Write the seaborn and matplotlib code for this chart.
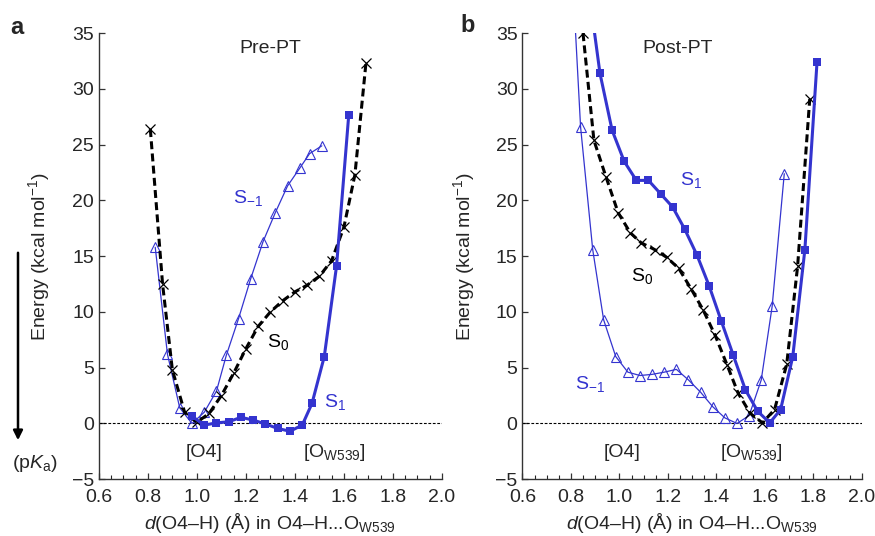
import matplotlib

matplotlib.use("Agg")

import matplotlib.pyplot as plt
import numpy as np
import pandas as pd
import seaborn as sns
from matplotlib.ticker import MultipleLocator

BLUE = "#3434CF"

# panel a: Pre-PT
pre_s1_d = [0.98, 1.03, 1.08, 1.13, 1.18, 1.23, 1.28, 1.33, 1.38, 1.43, 1.47, 1.52, 1.57, 1.62]
pre_s1_e = [0.65, -0.15, 0.05, 0.15, 0.55, 0.3, -0.05, -0.45, -0.7, -0.15, 1.8, 6.0, 14.1, 27.7]

pre_sm1_d = [0.83, 0.88, 0.93, 0.98, 1.03, 1.08, 1.12, 1.17, 1.22, 1.27, 1.32, 1.37, 1.42, 1.46, 1.51]
pre_sm1_e = [15.8, 6.2, 1.4, 0.0, 1.0, 2.9, 6.1, 9.4, 13.0, 16.3, 18.9, 21.3, 22.9, 24.2, 24.9]

pre_s0_d = [0.81, 0.86, 0.90, 0.95, 1.00, 1.05, 1.10, 1.15, 1.20, 1.25, 1.30, 1.35,
            1.40, 1.45, 1.50, 1.55, 1.60, 1.645, 1.69]
pre_s0_e = [26.4, 12.5, 4.8, 1.0, 0.1, 0.9, 2.5, 4.5, 6.7, 8.7, 10.0, 11.0,
            11.8, 12.4, 13.2, 14.6, 17.6, 22.3, 32.3]

# panel b: Post-PT
post_s1_d = [0.87, 0.92, 0.97, 1.02, 1.07, 1.12, 1.17, 1.22, 1.27, 1.32, 1.37, 1.42,
             1.47, 1.52, 1.57, 1.62, 1.665, 1.715, 1.765, 1.815]
post_s1_e = [39.5, 31.4, 26.3, 23.5, 21.8, 21.8, 20.6, 19.4, 17.4, 15.1, 12.35, 9.2,
             6.1, 3.0, 1.1, 0.05, 1.25, 6.0, 15.6, 32.4]

post_sm1_d = [0.79, 0.84, 0.89, 0.935, 0.985, 1.035, 1.085, 1.135, 1.185, 1.235, 1.285,
              1.335, 1.385, 1.435, 1.485, 1.535, 1.585, 1.63, 1.68]
post_sm1_e = [47.0, 26.6, 15.6, 9.3, 6.0, 4.6, 4.3, 4.4, 4.6, 4.85, 3.9,
              2.8, 1.5, 0.5, 0.0, 0.7, 3.9, 10.5, 22.4]

post_s0_d = [0.85, 0.895, 0.945, 0.995, 1.045, 1.09, 1.145, 1.195, 1.245, 1.295, 1.345,
             1.395, 1.445, 1.49, 1.54, 1.59, 1.64, 1.69, 1.735, 1.785]
post_s0_e = [35.0, 25.4, 22.1, 18.9, 17.1, 16.2, 15.6, 14.9, 13.9, 12.1, 10.2,
             7.9, 5.2, 2.7, 0.9, 0.05, 1.25, 5.3, 14.1, 29.1]

x_ticks = [0.6, 0.8, 1.0, 1.2, 1.4, 1.6, 1.8, 2.0]
y_ticks = [-5, 0, 5, 10, 15, 20, 25, 30, 35]

FS = 14

sns.set_theme(style="ticks")
plt.rcParams["font.family"] = ["Liberation Sans", "DejaVu Sans"]
plt.rcParams["mathtext.fontset"] = "custom"
plt.rcParams["mathtext.rm"] = "Liberation Sans"
plt.rcParams["mathtext.it"] = "Liberation Sans:italic"
plt.rcParams["font.size"] = FS


def draw_curves(ax, s1, sm1, s0):
    sns.lineplot(x=sm1[0], y=sm1[1], ax=ax, estimator=None, sort=False, color=BLUE,
                 lw=0.9, marker="^", markersize=7, markerfacecolor="none",
                 markeredgecolor=BLUE, markeredgewidth=0.8)
    line_ax = sns.lineplot(x=s0[0], y=s0[1], ax=ax, estimator=None, sort=False,
                           color="black", lw=2.2, marker="x", markersize=7,
                           markeredgecolor="black", markeredgewidth=0.9)
    line_ax.lines[-1].set_dashes((2.6, 1.4))
    sns.lineplot(x=s1[0], y=s1[1], ax=ax, estimator=None, sort=False, color=BLUE,
                 lw=2.2, marker="s", markersize=6, markeredgewidth=0)


def style_axes(ax):
    ax.set_xlim(0.6, 2.0)
    ax.set_ylim(-5, 35)
    ax.set_xticks(x_ticks)
    ax.set_xticklabels([f"{t:.1f}" for t in x_ticks])
    ax.set_yticks(y_ticks)
    ax.xaxis.set_minor_locator(MultipleLocator(0.05))
    ax.tick_params(axis="both", direction="in", labelsize=FS, width=0.9, color="#333333")
    ax.tick_params(axis="x", which="major", length=4, pad=7)
    ax.tick_params(axis="x", which="minor", length=3, direction="in", width=0.8)
    ax.tick_params(axis="y", length=4)
    sns.despine(ax=ax)
    for side in ("left", "bottom"):
        ax.spines[side].set_color("#333333")
        ax.spines[side].set_linewidth(1.0)
    ax.axhline(0, color="black", lw=0.8, ls=(0, (2.5, 1.5)), zorder=1)
    ax.set_ylabel("Energy (kcal mol$^{-1}$)", fontsize=FS)
    ax.set_xlabel(r"$\mathit{d}$(O4–H) (Å) in O4–H...O$_\mathrm{W539}$", fontsize=FS)
    ax.xaxis.set_label_coords(0.5, -0.072)
    ax.xaxis.label.set_va("top")


fig = plt.figure(figsize=(8.75, 5.36), dpi=100)
ax_a = fig.add_axes([0.113, 0.106, 0.392, 0.832])
ax_b = fig.add_axes([0.597, 0.106, 0.388, 0.832])

draw_curves(ax_a, (pre_s1_d, pre_s1_e), (pre_sm1_d, pre_sm1_e), (pre_s0_d, pre_s0_e))
draw_curves(ax_b, (post_s1_d, post_s1_e), (post_sm1_d, post_sm1_e), (post_s0_d, post_s0_e))

for ax in (ax_a, ax_b):
    style_axes(ax)
ax_a.yaxis.set_label_coords(-0.136, 0.5)
ax_b.yaxis.set_label_coords(-0.133, 0.5)

# panel a annotations
ax_a.text(1.3, 34.4, "Pre-PT", ha="center", va="top", fontsize=FS)
ax_a.text(1.21, 20.2, "S$_{-1}$", color=BLUE, ha="center", va="center", fontsize=FS)
ax_a.text(1.33, 7.3, "S$_0$", color="black", ha="center", va="center", fontsize=FS)
ax_a.text(1.565, 1.9, "S$_1$", color=BLUE, ha="center", va="center", fontsize=FS)
ax_a.text(1.03, -2.6, "[O4]", ha="center", va="center", fontsize=FS)
ax_a.text(1.56, -2.6, "[O$_\\mathrm{W539}$]", ha="center", va="center", fontsize=FS)

# panel b annotations
ax_b.text(1.24, 34.4, "Post-PT", ha="center", va="top", fontsize=FS)
ax_b.text(1.295, 21.8, "S$_1$", color=BLUE, ha="center", va="center", fontsize=FS)
ax_b.text(1.093, 13.2, "S$_0$", color="black", ha="center", va="center", fontsize=FS)
ax_b.text(0.88, 3.5, "S$_{-1}$", color=BLUE, ha="center", va="center", fontsize=FS)
ax_b.text(1.01, -2.6, "[O4]", ha="center", va="center", fontsize=FS)
ax_b.text(1.545, -2.6, "[O$_\\mathrm{W539}$]", ha="center", va="center", fontsize=FS)

fig.text(0.019, 0.948, "a", fontsize=17, fontweight="bold", va="center", ha="center")
fig.text(0.535, 0.953, "b", fontsize=17, fontweight="bold", va="center", ha="center")

# pKa arrow on the left
fig.add_artist(matplotlib.patches.FancyArrowPatch(
    (18 / 875, 1 - 250 / 536), (18 / 875, 1 - 443 / 536),
    transform=fig.transFigure, arrowstyle="-|>", mutation_scale=14,
    lw=1.8, color="black"))
fig.text(0.040, 1 - 463 / 536, "(p$\\mathit{K}_\\mathrm{a}$)", ha="center", va="center",
         fontsize=FS)

fig.savefig("out.png", dpi=100)
plt.close(fig)
